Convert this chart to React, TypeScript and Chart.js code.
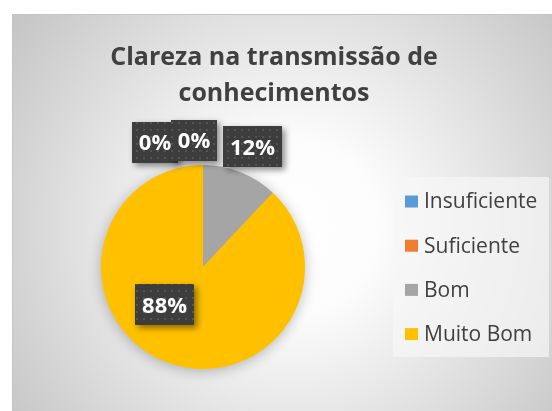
import React, { useEffect, useRef } from "react";
import { Chart, registerables } from "chart.js";
Chart.register(...registerables);

const categories = ["Insuficiente", "Suficiente", "Bom", "Muito Bom"];
const values = [0, 0, 12, 88];
const percentLabels = ["0%", "0%", "12%", "88%"];
const colors = ["#5B9BD5", "#ED7D31", "#A5A5A5", "#FFC000"];
const titleLines = ["Clareza na transmissão de", "conhecimentos"];
// data label centre offsets relative to pie centre, in units of radius
const labelOffsets = [
  [-0.47, -1.225],
  [-0.088, -1.245],
  [0.485, -1.18],
  [-0.377, 0.368],
];

const FONT = "'Open Sans', 'Noto Sans', sans-serif";
const TEXT = "#404040";

function makePattern(ctx: CanvasRenderingContext2D) {
  const c = document.createElement("canvas");
  c.width = 7;
  c.height = 7;
  const p = c.getContext("2d")!;
  p.fillStyle = "#3d3d3d";
  p.fillRect(0, 0, 7, 7);
  p.fillStyle = "#545454";
  p.fillRect(3, 3, 2, 2);
  return ctx.createPattern(c, "repeat")!;
}

const decorPlugin = {
  id: "decor",
  beforeDraw(chart: any) {
    const ctx: CanvasRenderingContext2D = chart.ctx;
    const W = chart.width;
    const H = chart.height;
    ctx.save();
    ctx.fillStyle = "#ffffff";
    ctx.fillRect(0, 0, W, H);
    const fx = 12, fy = 14, fw = W - fx, fh = H - fy;
    const cx = fx + fw / 2 + 10, cy = fy + fh / 2 + 15;
    const rad = Math.sqrt((fw / 2 + 10) ** 2 + (fh / 2 + 15) ** 2);
    const g = ctx.createRadialGradient(cx, cy, 0, cx, cy, rad);
    g.addColorStop(0, "#ffffff");
    g.addColorStop(0.25, "#fcfcfc");
    g.addColorStop(1, "#c4c4c4");
    ctx.fillStyle = g;
    ctx.fillRect(fx, fy, fw, fh);
    ctx.strokeStyle = "#c4c4c4";
    ctx.lineWidth = 1;
    ctx.strokeRect(fx + 0.5, fy + 0.5, fw, fh);

    // title
    ctx.fillStyle = TEXT;
    ctx.font = `bold 25px ${FONT}`;
    ctx.textAlign = "center";
    ctx.textBaseline = "alphabetic";
    ctx.fillText(titleLines[0], 274, 65);
    ctx.fillText(titleLines[1], 274, 101);

    // legend
    ctx.fillStyle = "rgba(247,247,247,0.7)";
    ctx.fillRect(393, 177, 156, 180);
    ctx.font = `21px ${FONT}`;
    ctx.textAlign = "left";
    ctx.textBaseline = "middle";
    categories.forEach((lab, i) => {
      const y = 201.5 + i * 44.2;
      ctx.fillStyle = colors[i];
      ctx.fillRect(405, y - 6, 13, 12);
      ctx.fillStyle = TEXT;
      ctx.fillText(lab, 424, y + 1);
    });
    ctx.restore();
  },
  beforeDatasetsDraw(chart: any) {
    const ctx: CanvasRenderingContext2D = chart.ctx;
    const arc = chart.getDatasetMeta(0).data[0];
    if (!arc) return;
    ctx.save();
    ctx.shadowColor = "rgba(0,0,0,0.28)";
    ctx.shadowBlur = 14;
    ctx.shadowOffsetX = 0;
    ctx.shadowOffsetY = 2;
    ctx.fillStyle = colors[3];
    ctx.beginPath();
    ctx.arc(arc.x, arc.y, arc.outerRadius - 0.5, 0, Math.PI * 2);
    ctx.fill();
    ctx.restore();
  },
  afterDatasetsDraw(chart: any) {
    const ctx: CanvasRenderingContext2D = chart.ctx;
    const arcs = chart.getDatasetMeta(0).data;
    const pat = makePattern(ctx);
    ctx.save();
    ctx.font = `bold 22px ${FONT}`;
    ctx.textAlign = "center";
    ctx.textBaseline = "alphabetic";
    percentLabels.forEach((t, i) => {
      const a = arcs[i];
      const r = a.outerRadius;
      const lx = a.x + labelOffsets[i][0] * r;
      const ly = a.y + labelOffsets[i][1] * r;
      const tw = ctx.measureText(t).width;
      const bw = tw + 14;
      const bh = 41;
      ctx.save();
      ctx.shadowColor = "rgba(0,0,0,0.45)";
      ctx.shadowBlur = 6;
      ctx.shadowOffsetX = 3;
      ctx.shadowOffsetY = 3;
      ctx.fillStyle = pat;
      ctx.fillRect(Math.round(lx - bw / 2), Math.round(ly - bh / 2), Math.round(bw), bh);
      ctx.restore();
      ctx.fillStyle = "#ffffff";
      ctx.fillText(t, lx, ly + 8);
    });
    ctx.restore();
  },
};

export default function App() {
  const ref = useRef<HTMLCanvasElement>(null);
  useEffect(() => {
    document.body.style.margin = "0";
    const chart = new Chart(ref.current!, {
      type: "pie",
      data: {
        labels: categories,
        datasets: [
          {
            data: values,
            backgroundColor: colors,
            borderWidth: 0,
          },
        ],
      },
      options: {
        responsive: false,
        devicePixelRatio: 1,
        animation: false,
        layout: { padding: { left: 101, top: 165, right: 247, bottom: 42 } },
        plugins: {
          legend: { display: false },
          tooltip: { enabled: false },
          title: { display: false },
        },
      },
      plugins: [decorPlugin],
    });
    return () => chart.destroy();
  }, []);
  return (
    <div style={{ width: 552, height: 411 }}>
      <canvas ref={ref} width={552} height={411} style={{ display: "block" }} />
    </div>
  );
}
